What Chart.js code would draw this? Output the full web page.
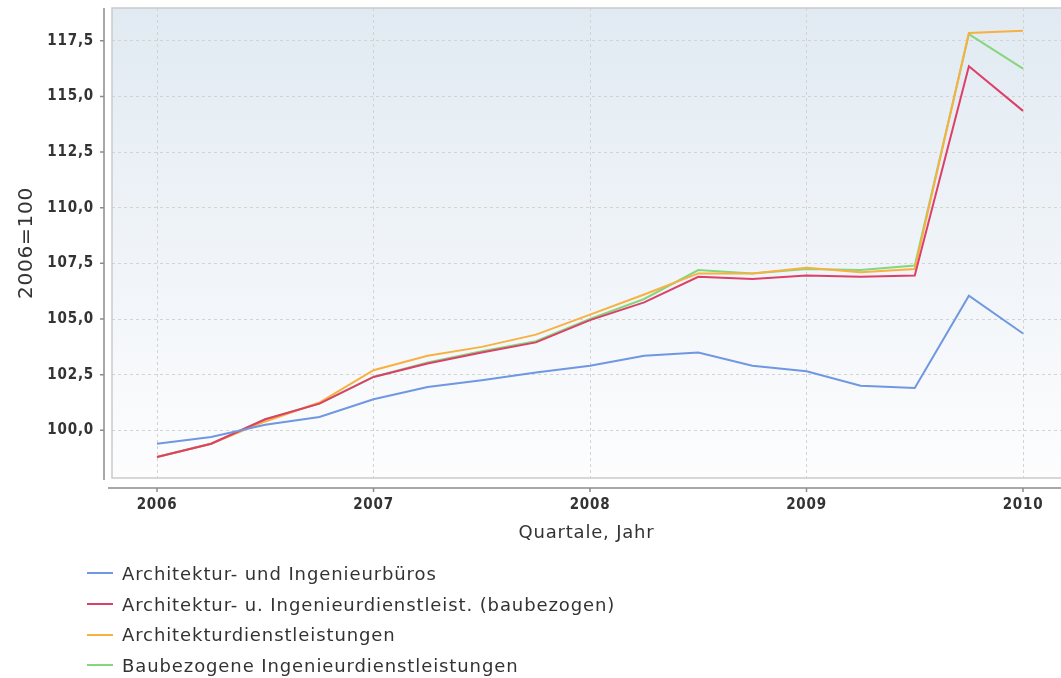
<!DOCTYPE html>
<html>
<head>
<meta charset="utf-8">
<script src="https://cdn.jsdelivr.net/npm/chart.js@4.4.1/dist/chart.umd.min.js"></script>
<style>
  html, body { margin: 0; padding: 0; background: #fff; }
  #wrap { position: relative; width: 1061px; height: 678px; overflow: hidden; }
  #legend { position: absolute; left: 87px; top: 558px; font-family: "DejaVu Sans", sans-serif;
            font-size: 18px; letter-spacing: 0.9px; color: #333; }
  .row { display: flex; align-items: center; height: 30.7px; }
  .swatch { width: 26px; height: 2px; margin-right: 9px; }
</style>
</head>
<body>
<div id="wrap">
  <canvas id="chart" width="1061" height="678"></canvas>
  <div id="legend"></div>
</div>
<script>
// --- data ---
const quarterPos = [2006, 2006.25, 2006.5, 2006.75, 2007, 2007.25, 2007.5, 2007.75,
                    2008, 2008.25, 2008.5, 2008.75, 2009, 2009.25, 2009.5, 2009.75, 2010];

const seriesNames = [
    'Architektur- und Ingenieurbüros',
    'Architektur- u. Ingenieurdienstleist. (baubezogen)',
    'Architekturdienstleistungen',
    'Baubezogene Ingenieurdienstleistungen'
];
const seriesColors = ['#6f97e2', '#dc4068', '#f8b040', '#86d67e'];

const bueros      = [99.4, 99.7, 100.25, 100.6, 101.4, 101.95, 102.25, 102.6, 102.9, 103.35, 103.5, 102.9, 102.65, 102.0, 101.9, 106.05, 104.35];
const baubezogen  = [98.8, 99.4, 100.5, 101.2, 102.4, 103.0, 103.5, 103.95, 104.95, 105.75, 106.9, 106.8, 106.95, 106.9, 106.95, 116.35, 114.35];
const architektur = [98.8, 99.4, 100.4, 101.25, 102.7, 103.35, 103.75, 104.3, 105.2, 106.1, 107.05, 107.05, 107.3, 107.1, 107.25, 117.85, 117.95];
const ingenieur   = [98.8, 99.4, 100.5, 101.2, 102.4, 103.05, 103.55, 104.0, 105.0, 105.9, 107.2, 107.05, 107.25, 107.2, 107.4, 117.8, 116.25];

const xTicks = [2006, 2007, 2008, 2009, 2010];
const xTickLabels = ['2006', '2007', '2008', '2009', '2010'];
const yTicks = [100, 102.5, 105, 107.5, 110, 112.5, 115, 117.5];
const yTickLabels = ['100,0', '102,5', '105,0', '107,5', '110,0', '112,5', '115,0', '117,5'];

const allSeries = [bueros, baubezogen, architektur, ingenieur];

// --- plot decoration: gradient background, frame, offset axis lines ---
const frame = {
    id: 'frame',
    beforeDraw(chart) {
        const { ctx, chartArea: a } = chart;
        const g = ctx.createLinearGradient(0, a.top, 0, a.bottom);
        g.addColorStop(0, '#e1eaf2');
        g.addColorStop(1, '#fdfdfe');
        ctx.save();
        ctx.fillStyle = g;
        ctx.fillRect(a.left, a.top, a.right - a.left, a.bottom - a.top);
        ctx.restore();
        ctx.letterSpacing = '0.8px';
    },
    afterDraw(chart) {
        const { ctx, chartArea: a, scales } = chart;
        ctx.save();
        ctx.strokeStyle = '#cacaca';
        ctx.lineWidth = 1.5;
        ctx.strokeRect(a.left, a.top, a.right - a.left + 5, a.bottom - a.top);

        ctx.strokeStyle = '#8c8c8c';
        ctx.lineWidth = 1.5;
        const ax = a.left - 8, ay = a.bottom + 10;
        ctx.beginPath();
        ctx.moveTo(ax, a.top); ctx.lineTo(ax, a.bottom + 2);
        yTicks.forEach(v => {
            const y = scales.y.getPixelForValue(v);
            ctx.moveTo(ax, y); ctx.lineTo(ax - 4, y);
        });
        ctx.moveTo(a.left - 4, ay); ctx.lineTo(a.right, ay);
        xTicks.forEach(v => {
            const x = scales.x.getPixelForValue(v);
            ctx.moveTo(x, ay); ctx.lineTo(x, ay + 4);
        });
        ctx.stroke();
        ctx.restore();
        ctx.letterSpacing = '0px';
    }
};

const tickFont = { family: 'DejaVu Sans Condensed', size: 15, weight: 'bold' };

const ctx = document.getElementById('chart').getContext('2d');
const chart = new Chart(ctx, {
    type: 'line',
    data: {
        labels: quarterPos,
        datasets: allSeries.map((d, i) => ({
            label: seriesNames[i],
            data: d,
            borderColor: seriesColors[i],
            backgroundColor: seriesColors[i],
            borderWidth: 2,
            pointRadius: 0,
            tension: 0,
            fill: false
        }))
    },
    options: {
        responsive: false,
        devicePixelRatio: 1,
        animation: false,
        layout: { padding: { top: 8, right: 0, bottom: 118, left: 0 } },
        plugins: { legend: { display: false }, tooltip: { enabled: false } },
        scales: {
            x: {
                type: 'linear',
                min: 2005.792,
                max: 2010.1755,
                afterBuildTicks: s => { s.ticks = xTicks.map(v => ({ value: v })); },
                afterFit: s => { s.height = 82; s.paddingLeft = 0; s.paddingRight = 0; },
                border: { display: false, dash: [3, 3] },
                grid: { color: '#d3d3d3', drawTicks: false, lineWidth: 1 },
                ticks: {
                    padding: 18,
                    color: '#333',
                    font: tickFont,
                    maxRotation: 0,
                    callback: v => xTickLabels[xTicks.indexOf(v)]
                },
                title: {
                    display: true, text: 'Quartale, Jahr', color: '#333',
                    font: { family: 'DejaVu Sans', size: 18 },
                    padding: { top: 4, bottom: 16 }
                }
            },
            y: {
                min: 97.86,
                max: 118.97,
                afterBuildTicks: s => { s.ticks = yTicks.map(v => ({ value: v })); },
                afterFit: s => { s.width = 112; s.paddingTop = 0; s.paddingBottom = 0; },
                border: { display: false, dash: [3, 3] },
                grid: { color: '#d3d3d3', drawTicks: false, lineWidth: 1 },
                ticks: {
                    padding: 18,
                    color: '#333',
                    font: tickFont,
                    callback: v => yTickLabels[yTicks.indexOf(v)]
                },
                title: {
                    display: true, text: '2006=100', color: '#333',
                    font: { family: 'DejaVu Sans', size: 20 },
                    padding: { top: 15, bottom: 4 }
                }
            }
        }
    },
    plugins: [frame]
});

// --- legend, one entry per row ---
const legend = document.getElementById('legend');
chart.data.datasets.forEach(ds => {
    const row = document.createElement('div');
    row.className = 'row';
    const sw = document.createElement('span');
    sw.className = 'swatch';
    sw.style.background = ds.borderColor;
    const txt = document.createElement('span');
    txt.textContent = ds.label;
    row.appendChild(sw);
    row.appendChild(txt);
    legend.appendChild(row);
});
</script>
</body>
</html>
